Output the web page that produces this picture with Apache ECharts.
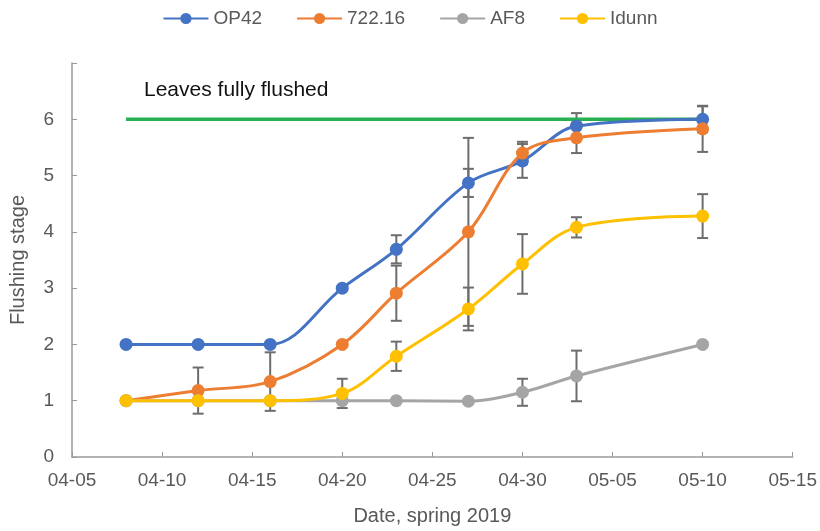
<!DOCTYPE html>
<html>
<head>
<meta charset="utf-8">
<script src="https://cdn.jsdelivr.net/npm/echarts@6/dist/echarts.min.js"></script>
<style>html,body{margin:0;padding:0;background:#fff}#c{width:820px;height:531px}</style>
</head>
<body>
<div id="c"></div>
<script>
const dates = ['04-08','04-12','04-16','04-20','04-23','04-27','04-30','05-03','05-10'];
const op42   = [2, 2, 2, 3.0, 3.69, 4.87, 5.26, 5.88, 6.0];
const s72216 = [1, 1.18, 1.34, 2.0, 2.91, 4.0, 5.4, 5.67, 5.83];
const af8    = [1, 1, 1, 1, 1, 0.99, 1.15, 1.44, 2.0];
const idunn  = [1, 1, 1, 1.13, 1.79, 2.63, 3.43, 4.08, 4.28];
const errOp42   = [null, null, null, null, 0.25, 0.25, 0.3, 0.23, 0.23];
const err72216  = [null, 0.41, 0.52, null, 0.49, 1.67, 0.2, 0.27, 0.41];
const errAf8    = [null, null, null, null, null, null, 0.24, 0.45, null];
const errIdunn  = [null, null, null, 0.26, 0.26, 0.38, 0.53, 0.18, 0.39];
const flushLevel = 6;
const flushText = 'Leaves fully flushed';
const xTicks = ['04-05','04-10','04-15','04-20','04-25','04-30','05-05','05-10','05-15'];

function toDay(s){const [m,d]=s.split('-').map(Number);return m===4?d:30+d;}
function fromDay(v){const m=v<=30?4:5;const d=v<=30?v:v-30;return '0'+m+'-'+(d<10?'0'+d:d);}
const xs = dates.map(toDay);
const xMin = toDay(xTicks[0]), xMax = toDay(xTicks[xTicks.length-1]);

const seriesDefs = [
  {name:'OP42', data:op42, err:errOp42, color:'#4472C4'},
  {name:'722.16', data:s72216, err:err72216, color:'#ED7D31'},
  {name:'AF8', data:af8, err:errAf8, color:'#A5A5A5'},
  {name:'Idunn', data:idunn, err:errIdunn, color:'#FFC000'}
];

const errData = [];
seriesDefs.forEach(s=>{
  s.data.forEach((v,i)=>{ if(s.err[i]!=null) errData.push([xs[i], v - s.err[i], v + s.err[i]]); });
});

const font = "'Liberation Sans',Arial,sans-serif";
const series = [];
series.push({
  type:'custom', name:'err', z:1, silent:true,
  data: errData,
  encode:{x:0, y:[1,2]},
  renderItem:function(params, api){
    const x=api.value(0), lo=api.coord([x, api.value(1)]), hi=api.coord([x, api.value(2)]);
    const w=5.5;
    const st={stroke:'#6d6d6d', lineWidth:2};
    return {type:'group', children:[
      {type:'line', shape:{x1:lo[0],y1:lo[1],x2:hi[0],y2:hi[1]}, style:st},
      {type:'line', shape:{x1:lo[0]-w,y1:lo[1],x2:lo[0]+w,y2:lo[1]}, style:st},
      {type:'line', shape:{x1:hi[0]-w,y1:hi[1],x2:hi[0]+w,y2:hi[1]}, style:st}
    ]};
  }
});
series.push({
  type:'line', name:'flush', z:2, silent:true,
  data:[{value:[xs[0], flushLevel], symbol:'circle', symbolSize:0.1,
         label:{show:true, formatter:flushText, position:[18,-29], align:'left', verticalAlign:'middle',
                color:'#111', fontSize:21, fontFamily:font}},
        {value:[xs[xs.length-1], flushLevel], symbol:'none'}],
  lineStyle:{color:'#26B050', width:3.5},
  itemStyle:{color:'#26B050'},
  showSymbol:true
});
seriesDefs.forEach((s,k)=>{
  series.push({
    type:'line', name:s.name, z:3+k,
    data: s.data.map((v,i)=>[xs[i], v]),
    smooth:0.35,
    symbol:'circle', symbolSize:13,
    lineStyle:{color:s.color, width:3},
    itemStyle:{color:s.color}
  });
});

const chart = echarts.init(document.getElementById('c'));
chart.setOption({
  animation:false,
  textStyle:{fontFamily:font},
  legend:{
    data: seriesDefs.map(s=>s.name),
    top:4, left:'center', itemWidth:45, itemHeight:14, itemGap:34,
    textStyle:{fontSize:19, color:'#595959', fontFamily:font}
  },
  grid:{left:71, right:25, top:63, bottom:74},
  xAxis:{
    type:'value', min:xMin, max:xMax, interval:5,
    name:'Date, spring 2019', nameLocation:'middle', nameGap:49,
    nameTextStyle:{fontSize:20, color:'#595959'},
    axisLine:{lineStyle:{color:'#9a9a9a', width:1.5}},
    axisTick:{inside:true, length:5, lineStyle:{color:'#9a9a9a'}},
    axisLabel:{formatter:v=>fromDay(v), fontSize:19, color:'#595959', margin:14},
    splitLine:{show:false}
  },
  yAxis:{
    type:'value', min:0, max:7, interval:1,
    name:'Flushing stage', nameLocation:'middle', nameGap:44,
    nameTextStyle:{fontSize:20, color:'#595959'},
    axisLine:{show:true, lineStyle:{color:'#9a9a9a', width:1.5}},
    axisTick:{show:true, inside:true, length:5, lineStyle:{color:'#9a9a9a'}},
    axisLabel:{formatter:v=>v===7?'':String(v), fontSize:19, color:'#595959', margin:18},
    splitLine:{show:false}
  },
  series: series
});
</script>
</body>
</html>
